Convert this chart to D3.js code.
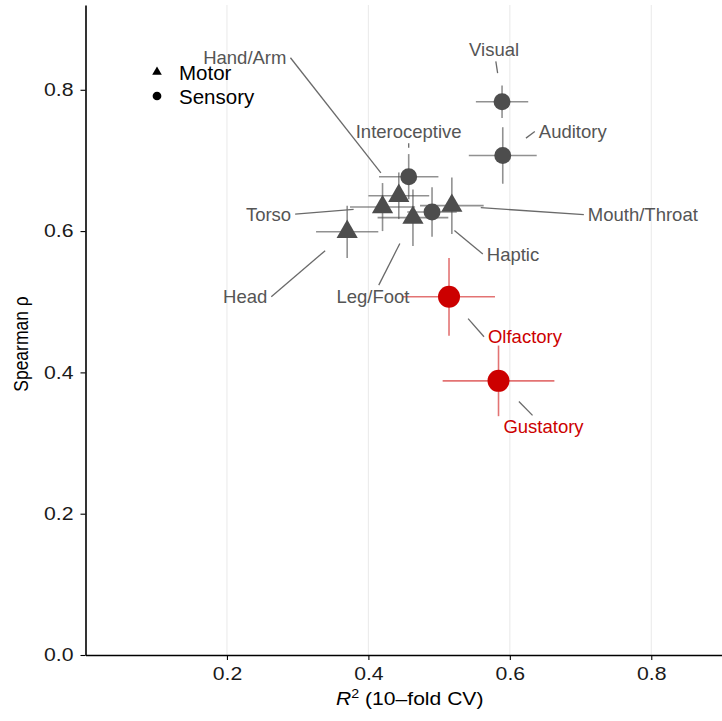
<!DOCTYPE html>
<html>
<head>
<meta charset="utf-8">
<script src="https://cdn.jsdelivr.net/npm/d3@7"></script>
<style>
    body { margin: 0; background: #fff; }
    svg { display: block; font-family: "Liberation Sans", Arial, sans-serif; }
</style>
</head>
<body>
<div id="chart"></div>
<script>
'use strict';

// Data
const names = ["Visual", "Auditory", "Interoceptive", "Hand/Arm", "Torso", "Mouth/Throat",
    "Haptic", "Head", "Leg/Foot", "Olfactory", "Gustatory"];
const modality = ["Sensory", "Sensory", "Sensory", "Motor", "Motor", "Motor",
    "Sensory", "Motor", "Motor", "Sensory", "Sensory"];
const r2 = [0.589, 0.590, 0.457, 0.443, 0.420, 0.518, 0.490, 0.370, 0.463, 0.514, 0.584];
const r2Err = [0.037, 0.048, 0.042, 0.043, 0.046, 0.045, 0.035, 0.044, 0.050, 0.065, 0.079];
const rho = [0.783, 0.707, 0.677, 0.650, 0.634, 0.636, 0.627, 0.599, 0.619, 0.507, 0.388];
const rhoErr = [0.023, 0.040, 0.032, 0.033, 0.034, 0.040, 0.035, 0.037, 0.040, 0.055, 0.050];
const highlighted = ["Olfactory", "Gustatory"];

const xTicks = [0.2, 0.4, 0.6, 0.8];
const yTicks = [0.0, 0.2, 0.4, 0.6, 0.8];
const legendItems = ["Motor", "Sensory"];

// label placement (pixel nudges, like ggrepel output)
const labelNudge = [
    [-8, -52], [70, -24], [0, -45], [-154, -138], [-114, 7], [191, 9],
    [81, 42], [-102, 65], [-40, 79], [76, 40], [45, 46]
];

const width = 722, height = 721;
const margin = { top: 5, right: 0, bottom: 66, left: 85.5 };

const grey = "#4d4d4d", red = "#cc0000";
const stretch = 1.18; // axis text is rendered a bit wide in the original

const rows = names.map((n, i) => ({
    name: n, type: modality[i], x: r2[i], xe: r2Err[i], y: rho[i], ye: rhoErr[i],
    hi: highlighted.includes(n), nudge: labelNudge[i]
}));

const svg = d3.select("#chart").append("svg")
    .attr("width", width)
    .attr("height", height);

svg.append("rect").attr("width", width).attr("height", height).attr("fill", "#fff");

const x = d3.scaleLinear().domain([0, 0.9]).range([margin.left, width - margin.right]);
const y = d3.scaleLinear().domain([0, 0.92]).range([height - margin.bottom, margin.top]);

// grid
svg.append("g").selectAll("line")
    .data(xTicks)
    .join("line")
    .attr("x1", d => x(d)).attr("x2", d => x(d))
    .attr("y1", y(0.92)).attr("y2", y(0))
    .attr("stroke", "#ebebeb")
    .attr("stroke-width", 1.1);

// axes
const axisX = svg.append("g")
    .attr("transform", `translate(0,${y(0)})`)
    .call(d3.axisBottom(x).tickValues(xTicks).tickSize(5).tickSizeOuter(0).tickFormat(d3.format(".1f")));
const axisY = svg.append("g")
    .attr("transform", `translate(${x(0)},0)`)
    .call(d3.axisLeft(y).tickValues(yTicks).tickSize(5).tickSizeOuter(0).tickFormat(d3.format(".1f")));

[axisX, axisY].forEach(a => {
    a.select(".domain").attr("stroke", "#000").attr("stroke-width", 1.6);
    a.selectAll(".tick line").attr("stroke", "#000").attr("stroke-width", 1.1);
    a.selectAll(".tick text").attr("fill", "#1a1a1a").attr("font-size", 18)
        .attr("font-family", "Liberation Sans, Arial, sans-serif")
        .attr("transform", `scale(${stretch},1)`);
});
axisX.selectAll(".tick text").attr("dy", "0.95em");
axisY.selectAll(".tick text").attr("x", -12 / stretch);

// axis titles
const xt = svg.append("text")
    .attr("transform", `translate(${(x(0) + x(0.9)) / 2 + 6},705) scale(1.14,1)`)
    .attr("text-anchor", "middle")
    .attr("font-size", 18.5)
    .attr("fill", "#000");
xt.append("tspan").attr("font-style", "italic").text("R");
xt.append("tspan").attr("font-size", 12.5).attr("dy", -7.5).text("2");
xt.append("tspan").attr("dy", 7.5).text(" (10\u2013fold CV)");

svg.append("text")
    .attr("transform", `translate(28,344) scale(1.2,1) rotate(-90)`)
    .attr("text-anchor", "middle")
    .attr("font-size", 17.5)
    .attr("fill", "#000")
    .text("Spearman \u03c1");

// error bars
const bars = svg.append("g");
rows.forEach(d => {
    const col = d.hi ? "rgba(204,0,0,0.55)" : "rgba(77,77,77,0.62)";
    bars.append("line")
        .attr("x1", x(d.x - d.xe)).attr("x2", x(d.x + d.xe))
        .attr("y1", y(d.y)).attr("y2", y(d.y))
        .attr("stroke", col).attr("stroke-width", 1.6);
    bars.append("line")
        .attr("x1", x(d.x)).attr("x2", x(d.x))
        .attr("y1", y(d.y - d.ye)).attr("y2", y(d.y + d.ye))
        .attr("stroke", col).attr("stroke-width", 1.6);
});

// labels + segments
// point above/below the label: aim at the label centre and stop at the box edge;
// otherwise attach to the nearest side midpoint
const labels = svg.append("g");
const segs = svg.append("g");
rows.forEach(d => {
    const px = x(d.x), py = y(d.y);
    const t = labels.append("text")
        .attr("x", px + d.nudge[0])
        .attr("y", py + d.nudge[1])
        .attr("text-anchor", "middle")
        .attr("dominant-baseline", "central")
        .attr("font-size", 18.5)
        .attr("fill", d.hi ? red : "#555")
        .text(d.name);
    const b = t.node().getBBox();
    const pad = 4;
    const cx = b.x + b.width / 2, cy = b.y + b.height / 2;
    const hw = b.width / 2 + pad, hh = b.height / 2 + pad - 3;
    let nx, ny;
    if (px >= cx - hw - 5 && px <= cx + hw + 5) {
        ny = py < cy ? cy - hh : cy + hh;
        nx = px + (cx - px) * (ny - py) / (cy - py);
    } else {
        const cands = [[cx - hw, cy], [cx + hw, cy], [cx, cy - hh], [cx, cy + hh]];
        [nx, ny] = cands.reduce((a, c) =>
            Math.hypot(c[0] - px, c[1] - py) < Math.hypot(a[0] - px, a[1] - py) ? c : a);
    }
    const dx = nx - px, dy = ny - py;
    const dist = Math.hypot(dx, dy);
    const gap = 29;
    if (dist > gap + 2) {
        segs.append("line")
            .attr("x1", px + dx / dist * gap).attr("y1", py + dy / dist * gap)
            .attr("x2", nx).attr("y2", ny)
            .attr("stroke", "#6a6a6a").attr("stroke-width", 1.3);
    }
});

// points
const tri = d3.symbol().type(d3.symbolTriangle).size(195);
svg.append("g").selectAll("path")
    .data(rows)
    .join("path")
    .attr("transform", d => `translate(${x(d.x)},${y(d.y)})`)
    .attr("d", d => d.type === "Motor"
        ? tri()
        : d3.symbol().type(d3.symbolCircle).size(d.hi ? 380 : 225)())
    .attr("fill", d => d.hi ? red : grey);

// legend
const legend = svg.append("g");
legendItems.forEach((k, i) => {
    const ly = 72 + i * 24;
    legend.append("path")
        .attr("transform", `translate(157,${ly})`)
        .attr("d", d3.symbol().type(k === "Motor" ? d3.symbolTriangle : d3.symbolCircle).size(k === "Motor" ? 40 : 60)())
        .attr("fill", "#000");
    legend.append("text")
        .attr("x", 179).attr("y", ly)
        .attr("dominant-baseline", "central")
        .attr("font-size", 20.5)
        .attr("fill", "#000")
        .text(k);
});
</script>
</body>
</html>
